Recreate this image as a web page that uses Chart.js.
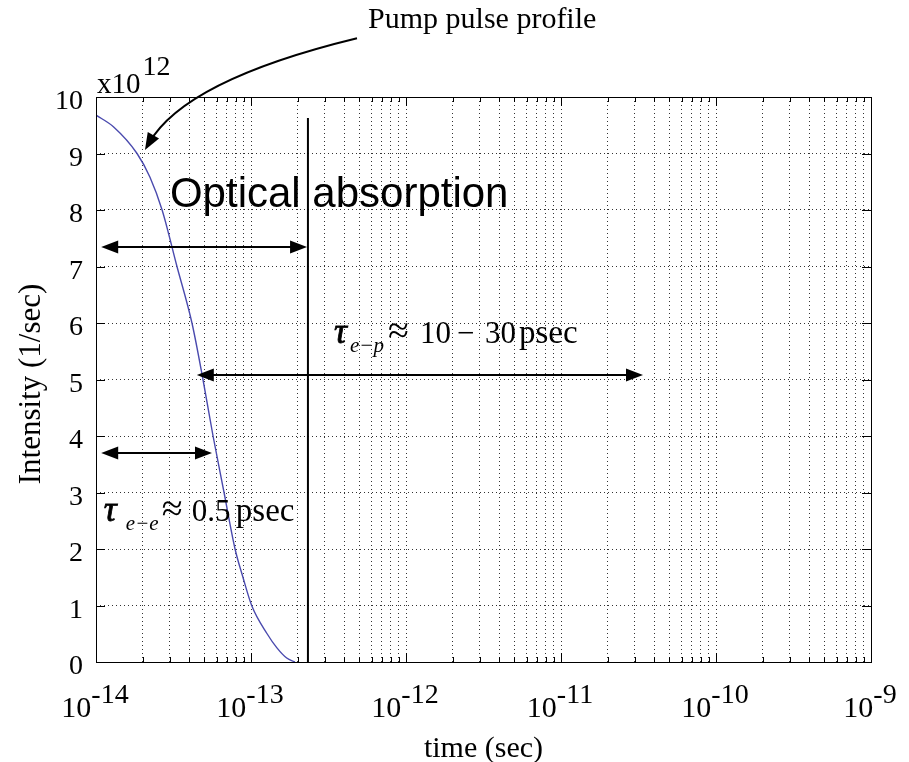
<!DOCTYPE html>
<html>
<head>
<meta charset="utf-8">
<title>Pump pulse profile</title>
<script src="https://cdn.jsdelivr.net/npm/chart.js@4.4.1/dist/chart.umd.min.js"></script>
<style>
  html, body { margin: 0; padding: 0; background: #fff; }
  #chart { display: block; }
</style>
</head>
<body>
<canvas id="chart" width="909" height="762"></canvas>
<script>
// pump pulse intensity (x1e12 1/sec) against time (sec)
const pulseTime = [1.0e-14, 1.3e-14, 1.84e-14, 2.23e-14, 2.67e-14, 3.33e-14, 4.16e-14, 4.9e-14,
  5.69e-14, 6.7e-14, 7.89e-14, 8.87e-14, 1.01e-13, 1.27e-13, 1.47e-13, 1.70e-13, 1.92e-13];
const pulseIntensity = [9.68, 9.47, 9.0, 8.58, 8.0, 7.0, 6.0, 5.0,
  4.0, 3.0, 2.0, 1.5, 1.0, 0.5, 0.25, 0.07, 0.0];

// time axis: decades plus minor lines at 2..9 in each decade
const timeDecades = [-14, -13, -12, -11, -10, -9];
const minorSteps = [2, 3, 4, 5, 6, 7, 8, 9];
const intensityTicks = [0, 1, 2, 3, 4, 5, 6, 7, 8, 9, 10];

// end of the optical absorption window
const absorptionEnd = 2.33e-13;
const absorptionTop = 9.63;

// double arrows: optical absorption, e-p relaxation, e-e relaxation
const spanStart = [1.08e-14, 4.47e-14, 1.08e-14];
const spanEnd = [2.30e-13, 3.38e-11, 5.60e-14];
const spanLevel = [7.35, 5.08, 3.70];

// callout arrow for the pulse: tail, bend, tip as [time, intensity]
const calloutTail = [4.83e-13, 11.04];
const calloutBend = [3.75e-14, 10.30];
const calloutTip = [2.07e-14, 9.06];

const serif = "'Liberation Serif', 'Times New Roman', serif";
const sans = "'Liberation Sans', Arial, sans-serif";

const timeTicks = [];
timeDecades.forEach((e, i) => {
  timeTicks.push({ value: Math.pow(10, e), major: true });
  if (i < timeDecades.length - 1) {
    minorSteps.forEach(m => timeTicks.push({ value: m * Math.pow(10, e), major: false }));
  }
});

function arrowHead(ctx, tx, ty, dx, dy, len, half) {
  const n = Math.hypot(dx, dy);
  const ux = dx / n, uy = dy / n;
  ctx.beginPath();
  ctx.moveTo(tx, ty);
  ctx.lineTo(tx - ux * len - uy * half, ty - uy * len + ux * half);
  ctx.lineTo(tx - ux * len + uy * half, ty - uy * len - ux * half);
  ctx.closePath();
  ctx.fill();
}

function doubleArrow(ctx, x1, x2, y) {
  ctx.beginPath();
  ctx.moveTo(x1 + 8, y);
  ctx.lineTo(x2 - 8, y);
  ctx.stroke();
  arrowHead(ctx, x1, y, -1, 0, 17, 6.5);
  arrowHead(ctx, x2, y, 1, 0, 17, 6.5);
}

// label pieces: text, dx, dy, font, stroke width
function drawPieces(ctx, x0, y0, pieces) {
  pieces.forEach(p => {
    ctx.font = p[3];
    ctx.fillText(p[0], x0 + p[1], y0 + p[2]);
    if (p[4]) {
      ctx.lineWidth = p[4];
      ctx.strokeText(p[0], x0 + p[1], y0 + p[2]);
    }
  });
}

const decorations = {
  id: 'decorations',
  afterDraw(chart) {
    const ctx = chart.ctx;
    const xs = chart.scales.x, ys = chart.scales.y;
    const a = chart.chartArea;
    const px = v => xs.getPixelForValue(v);
    const py = v => ys.getPixelForValue(v);

    ctx.save();
    ctx.fillStyle = '#000';
    ctx.strokeStyle = '#000';

    // frame
    ctx.lineWidth = 1;
    ctx.strokeRect(Math.round(a.left) + 0.5, Math.round(a.top) + 0.5,
      Math.round(a.right - a.left), Math.round(a.bottom - a.top));

    // inward tick marks
    ctx.beginPath();
    timeTicks.forEach(t => {
      const x = Math.round(px(t.value)) + 0.5;
      const len = t.major ? 9 : 5;
      ctx.moveTo(x, a.bottom); ctx.lineTo(x, a.bottom - len);
      ctx.moveTo(x, a.top); ctx.lineTo(x, a.top + len);
    });
    intensityTicks.forEach(v => {
      const y = Math.round(py(v)) + 0.5;
      ctx.moveTo(a.left, y); ctx.lineTo(a.left + 9, y);
      ctx.moveTo(a.right, y); ctx.lineTo(a.right - 9, y);
    });
    ctx.stroke();

    // decade labels 10^n
    ctx.textAlign = 'left';
    ctx.textBaseline = 'alphabetic';
    timeDecades.forEach(e => {
      const x = px(Math.pow(10, e));
      ctx.font = '30px ' + serif;
      const wb = ctx.measureText('10').width;
      ctx.font = '28px ' + serif;
      const we = ctx.measureText(String(e)).width;
      const x0 = x - (wb + we) / 2 - 1;
      ctx.font = '30px ' + serif;
      ctx.fillText('10', x0, a.bottom + 55);
      ctx.font = '28px ' + serif;
      ctx.fillText(String(e), x0 + wb, a.bottom + 41);
    });

    // multiplier above the intensity axis
    ctx.font = '29px ' + serif;
    ctx.fillText('x10', a.left + 1, a.top - 4);
    const wx = ctx.measureText('x10').width;
    ctx.font = '28px ' + serif;
    ctx.fillText('12', a.left + 3 + wx, a.top - 22);

    // axis titles
    ctx.font = '30px ' + serif;
    ctx.textAlign = 'center';
    ctx.fillText('time (sec)', (a.left + a.right) / 2, 757);
    ctx.font = '31px ' + serif;
    ctx.save();
    ctx.translate(40, 384);
    ctx.rotate(-Math.PI / 2);
    ctx.fillText('Intensity (1/sec)', 0, 0);
    ctx.restore();

    // double arrows
    ctx.lineWidth = 2;
    spanStart.forEach((s, i) => {
      doubleArrow(ctx, px(s), px(spanEnd[i]), Math.round(py(spanLevel[i])));
    });

    // callout arrow to the pulse
    const tail = [px(calloutTail[0]), py(calloutTail[1])];
    const bend = [px(calloutBend[0]), py(calloutBend[1])];
    const tip = [px(calloutTip[0]), py(calloutTip[1])];
    const dx = tip[0] - bend[0], dy = tip[1] - bend[1];
    const dn = Math.hypot(dx, dy);
    ctx.beginPath();
    ctx.moveTo(tail[0], tail[1]);
    ctx.quadraticCurveTo(bend[0], bend[1], tip[0] - dx / dn * 8, tip[1] - dy / dn * 8);
    ctx.stroke();
    arrowHead(ctx, tip[0], tip[1], dx, dy, 17, 6.5);

    ctx.textAlign = 'left';
    ctx.font = '30px ' + serif;
    ctx.fillText('Pump pulse profile', px(5.69e-13), py(11.22));

    ctx.font = '42px ' + sans;
    ctx.fillText('Optical absorption', px(3.0e-14), py(8.05));

    const it = 'italic 36px ' + serif;
    const isub = 'italic 21px ' + serif;
    const rm = '31px ' + serif;
    const ps = '33px ' + serif;
    const ap = '38px ' + serif;
    drawPieces(ctx, px(3.48e-13), py(5.65), [
      ['\u03c4', -1, 0, it, 0.8],
      ['e\u2212p', 15, 9, isub],
      ['\u2248', 53, 0, ap],
      ['10', 85, 0, rm],
      ['\u2212', 122, 0, rm],
      ['30', 150, 0, rm],
      ['psec', 184, 0, ps]
    ]);
    drawPieces(ctx, px(1.14e-14), py(2.50), [
      ['\u03c4', -1, 0, it, 0.8],
      ['e\u2212e', 21, 9, isub],
      ['\u2248', 57, 0, ap],
      ['0.5', 87, 0, rm],
      ['psec', 131, 0, ps]
    ]);

    ctx.restore();
  }
};

new Chart(document.getElementById('chart'), {
  type: 'line',
  data: {
    datasets: [
      {
        data: pulseTime.map((t, i) => ({ x: t, y: pulseIntensity[i] })),
        borderColor: '#4a4aae',
        borderWidth: 1.4,
        pointRadius: 0,
        cubicInterpolationMode: 'monotone'
      },
      {
        data: [{ x: absorptionEnd, y: 0 }, { x: absorptionEnd, y: absorptionTop }],
        borderColor: '#000',
        borderWidth: 2,
        pointRadius: 0
      }
    ]
  },
  options: {
    responsive: false,
    animation: false,
    layout: { padding: { top: 97, right: 38, left: 0, bottom: 0 } },
    plugins: { legend: { display: false }, tooltip: { enabled: false } },
    scales: {
      x: {
        type: 'logarithmic',
        min: 1e-14,
        max: 1e-9,
        afterBuildTicks: s => { s.ticks = timeTicks.map(t => ({ value: t.value, major: t.major })); },
        afterFit: s => { s.height = 100; },
        ticks: { display: false },
        grid: { color: '#333', lineWidth: 1, drawTicks: false },
        border: { display: false, dash: [1, 3] }
      },
      y: {
        min: 0,
        max: 10,
        afterBuildTicks: s => { s.ticks = intensityTicks.map(v => ({ value: v })); },
        afterFit: s => { s.width = 96; },
        ticks: {
          color: '#000',
          padding: 13,
          labelOffset: 5,
          font: { family: serif, size: 28 }
        },
        grid: { color: '#333', lineWidth: 1, drawTicks: false },
        border: { display: false, dash: [1, 3] }
      }
    }
  },
  plugins: [decorations]
});
</script>
</body>
</html>
